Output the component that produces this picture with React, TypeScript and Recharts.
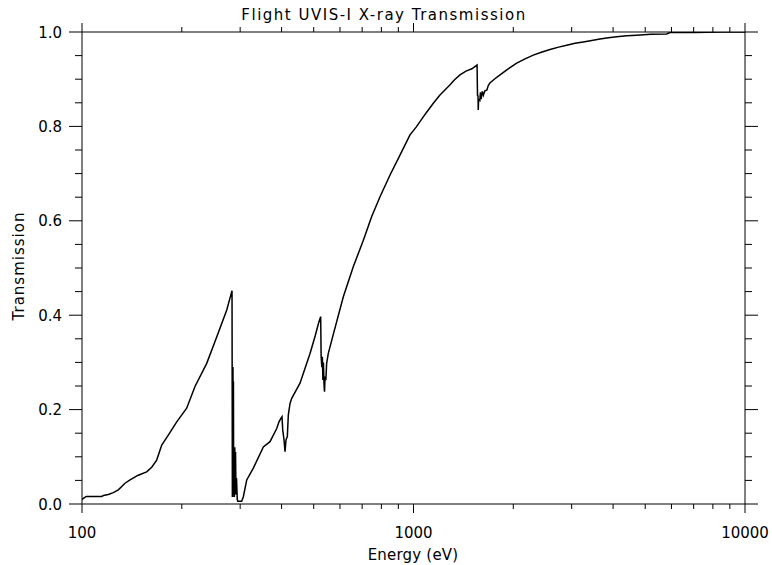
import React from 'react';
import { LineChart, Line, XAxis, YAxis } from 'recharts';

// photon energy (eV) and filter transmission
const energy = [
  100, 101, 103, 114.7, 116, 120, 124.3, 128.7, 134.8, 139.6, 147.8, 156.7, 162.3, 168, 174,
  182.1, 193.1, 206.9, 219.2, 237.8, 254.9, 273.3, 283.5,
  // carbon K edge
  284.2, 284.6, 285.0, 285.4, 285.8, 286.3, 286.8, 287.5, 288.2, 289.0, 289.8, 290.5, 291.5,
  292.5, 294, 295, 303, 306.6, 314, 328.7, 352.4, 369.1, 386.7, 392.9, 397.6, 401.2,
  // nitrogen K edge
  403.2, 406.8, 409.7, 412.5, 416.3, 419.2, 424.2, 429.2, 454.6, 487.4, 505, 518, 524.8,
  // oxygen K edge
  526.5, 529, 531, 533, 535, 537, 539, 541, 544, 547, 553.4, 573.1, 614.2, 658.5, 705.9, 748,
  792.5, 849.6, 910.4, 975.9, 1020, 1046, 1090, 1147.6, 1200, 1289, 1330, 1381, 1440, 1500, 1555,
  // aluminium K edge
  1560, 1565, 1568, 1572, 1585, 1592, 1600, 1612, 1625, 1640, 1665, 1680, 1700, 1760, 1824,
  1930, 2048, 2170, 2298, 2430, 2581, 2740, 2898, 3070, 3252, 3450, 3652, 3870, 4102, 4400,
  4713, 5200, 5804, 5939, 7000, 8500, 10000,
];

const transmission = [
  0.009, 0.012, 0.016, 0.016, 0.018, 0.02, 0.024, 0.03, 0.044, 0.051, 0.061, 0.068, 0.078, 0.093, 0.125,
  0.146, 0.174, 0.203, 0.249, 0.298, 0.354, 0.411, 0.452,
  0.015, 0.29, 0.015, 0.29, 0.02, 0.26, 0.02, 0.12, 0.015, 0.12, 0.02, 0.11, 0.02,
  0.055, 0.01, 0.006, 0.006, 0.015, 0.051, 0.076, 0.121, 0.132, 0.16, 0.174, 0.181, 0.185,
  0.157, 0.136, 0.111, 0.136, 0.143, 0.189, 0.213, 0.224, 0.256, 0.319, 0.356, 0.385, 0.397,
  0.312, 0.29, 0.312, 0.263, 0.3, 0.255, 0.238, 0.27, 0.262, 0.298, 0.319, 0.36, 0.439, 0.503, 0.559, 0.609,
  0.651, 0.697, 0.739, 0.782, 0.799, 0.81, 0.828, 0.849, 0.866, 0.888, 0.899, 0.909, 0.917, 0.922, 0.93,
  0.864, 0.866, 0.835, 0.858, 0.855, 0.872, 0.858, 0.874, 0.866, 0.875, 0.877, 0.886, 0.892, 0.901, 0.909,
  0.922, 0.934, 0.943, 0.951, 0.957, 0.963, 0.968, 0.972, 0.976, 0.979, 0.982, 0.985, 0.988, 0.99, 0.992,
  0.993, 0.995, 0.996, 0.999, 0.999, 1.0, 1.0,
];

const xTicks = [
  100, 200, 300, 400, 500, 600, 700, 800, 900,
  1000, 2000, 3000, 4000, 5000, 6000, 7000, 8000, 9000, 10000,
];
const xMajor = [100, 1000, 10000];
const yTicks = [
  0, 0.05, 0.1, 0.15, 0.2, 0.25, 0.3, 0.35, 0.4, 0.45, 0.5,
  0.55, 0.6, 0.65, 0.7, 0.75, 0.8, 0.85, 0.9, 0.95, 1.0,
];

const data = energy.map((e, i) => ({ e, t: transmission[i] }));

const FONT = '"DejaVu Sans", sans-serif';
const isYMajor = (v: number) => Math.abs(v * 5 - Math.round(v * 5)) < 1e-6;

function BottomTick({ x, y, payload }: any) {
  const major = xMajor.includes(payload.value);
  return (
    <g>
      <line x1={x} y1={y} x2={x} y2={y + (major ? 9 : 5)} stroke="#000" />
      {major && (
        <text x={x} y={y + 34} textAnchor="middle" fontSize={15} fontFamily={FONT} fill="#000">
          {payload.value}
        </text>
      )}
    </g>
  );
}

function TopTick({ x, y, payload }: any) {
  const major = xMajor.includes(payload.value);
  return <line x1={x} y1={y} x2={x} y2={y - (major ? 9 : 5)} stroke="#000" />;
}

function LeftTick({ x, y, payload }: any) {
  const major = isYMajor(payload.value);
  return (
    <g>
      <line x1={x} y1={y} x2={x - (major ? 13 : 7)} y2={y} stroke="#000" />
      {major && (
        <text x={x - 20} y={y + 5.5} textAnchor="end" fontSize={15} fontFamily={FONT} fill="#000">
          {payload.value.toFixed(1)}
        </text>
      )}
    </g>
  );
}

function RightTick({ x, y, payload }: any) {
  const major = isYMajor(payload.value);
  return <line x1={x} y1={y} x2={x + (major ? 13 : 7)} y2={y} stroke="#000" />;
}

export default function App() {
  return (
    <div style={{ position: 'absolute', left: 0, top: 0, width: 772, height: 565, background: '#fff' }}>
      <LineChart width={772} height={565} data={data} margin={{ top: 0, right: 0, bottom: 0, left: 0 }}>
        <XAxis
          xAxisId="bottom"
          dataKey="e"
          type="number"
          scale="log"
          domain={[100, 10000]}
          allowDataOverflow
          ticks={xTicks}
          interval={0}
          height={61}
          tickSize={0}
          tickMargin={0}
          tickLine={false}
          axisLine={{ stroke: '#000' }}
          tick={BottomTick}
        />
        <XAxis
          xAxisId="top"
          orientation="top"
          dataKey="e"
          type="number"
          scale="log"
          domain={[100, 10000]}
          allowDataOverflow
          ticks={xTicks}
          interval={0}
          height={32}
          tickSize={0}
          tickMargin={0}
          tickLine={false}
          axisLine={{ stroke: '#000' }}
          tick={TopTick}
        />
        <YAxis
          yAxisId="left"
          type="number"
          domain={[0, 1]}
          allowDataOverflow
          ticks={yTicks}
          interval={0}
          width={82}
          tickSize={0}
          tickMargin={0}
          tickLine={false}
          axisLine={{ stroke: '#000' }}
          tick={LeftTick}
        />
        <YAxis
          yAxisId="right"
          orientation="right"
          type="number"
          domain={[0, 1]}
          allowDataOverflow
          ticks={yTicks}
          interval={0}
          width={27}
          tickSize={0}
          tickMargin={0}
          tickLine={false}
          axisLine={{ stroke: '#000' }}
          tick={RightTick}
        />
        <Line
          xAxisId="bottom"
          yAxisId="left"
          type="linear"
          dataKey="t"
          stroke="#000"
          strokeWidth={1.5}
          dot={false}
          isAnimationActive={false}
        />
      </LineChart>
      <svg
        width={772}
        height={565}
        style={{ position: 'absolute', left: 0, top: 0, pointerEvents: 'none' }}
        fontFamily={FONT}
        fontSize={15}
        fill="#000"
      >
        <text x={384} y={20} textAnchor="middle" letterSpacing={1.5}>
          Flight UVIS-I X-ray Transmission
        </text>
        <text x={413} y={560} textAnchor="middle" letterSpacing={0.2}>
          Energy (eV)
        </text>
        <text x={24} y={266} textAnchor="middle" letterSpacing={1} transform="rotate(-90 24 266)">
          Transmission
        </text>
      </svg>
    </div>
  );
}
